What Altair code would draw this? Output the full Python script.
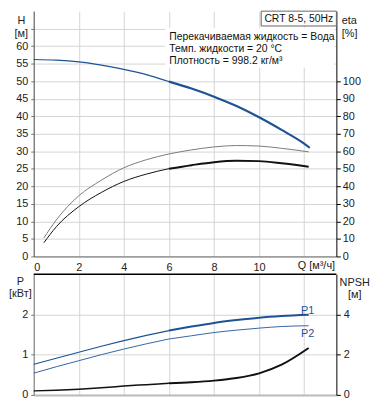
import altair as alt
import pandas as pd

# ---------------- data ----------------
q_h = [0, 1, 2, 3, 4, 5, 6, 7, 8, 9, 10, 11, 12, 12.25]
h_vals = [56.2, 56.0, 55.5, 54.6, 53.4, 51.9, 49.9, 47.9, 45.6, 42.9, 39.7, 36.1, 32.2, 31.0]

q_eta = [0.45, 1, 2, 3, 4, 5, 6, 7, 8, 9, 10, 11, 12.2]
eta_pump = [10.5, 20.8, 34.6, 43.5, 50.6, 55.2, 58.5, 60.8, 62.5, 63.3, 63.0, 61.7, 59.7]
eta_total = [7.8, 16.9, 28.4, 36.5, 42.8, 47.0, 50.1, 52.1, 53.8, 54.6, 54.4, 53.2, 51.2]

q_p = [0, 1, 2, 3, 4, 5, 6, 7, 8, 9, 10, 11, 12.2]
p1_vals = [0.76, 0.91, 1.06, 1.21, 1.35, 1.48, 1.60, 1.70, 1.79, 1.86, 1.92, 1.96, 1.99]
p2_vals = [0.54, 0.70, 0.85, 1.00, 1.14, 1.27, 1.39, 1.47, 1.55, 1.61, 1.66, 1.70, 1.72]
npsh_vals = [0.20, 0.23, 0.28, 0.35, 0.44, 0.51, 0.58, 0.63, 0.71, 0.84, 1.07, 1.50, 2.33]

q_ticks = [0, 2, 4, 6, 8, 10, 12]
h_ticks = [0, 5, 10, 15, 20, 25, 30, 35, 40, 45, 50, 55, 60, 65]
eta_ticks = [0, 10, 20, 30, 40, 50, 60, 70, 80, 90, 100]
p_ticks = [0, 1, 2]
npsh_ticks = [0, 2, 4]

info_lines = ["Перекачиваемая жидкость = Вода",
              "Темп. жидкости = 20 °C",
              "Плотность = 998.2 кг/м³"]
model_label = "CRT 8-5, 50Hz"
q_label = "Q [м³/ч]"

# ---------------- build tables ----------------
def long(q, v, name):
    return pd.DataFrame({"Q": q, "v": v, "s": name})

top_df = pd.concat([long(q_h, h_vals, "H"),
                    long(q_eta, eta_pump, "eta_p"),
                    long(q_eta, eta_total, "eta_t")], ignore_index=True)
bot_df = pd.concat([long(q_p, p1_vals, "P1"),
                    long(q_p, p2_vals, "P2"),
                    long(q_p, npsh_vals, "NPSH")], ignore_index=True)

W, HT, HB = 306, 248, 122
FONT = "Liberation Sans"
GRID = "#d4d4d4"
SPLIT = 6

x_top_axis = alt.Axis(values=q_ticks, grid=True, gridColor=GRID, domainColor="#666",
                      tickSize=0, labelPadding=5, title=None,
                      labelExpr="datum.value == 12 ? '' : datum.label")
x_bot_axis = alt.Axis(values=q_ticks, grid=True, gridColor=GRID, domainColor="#bbb",
                      domainWidth=2, ticks=False, labels=False, title=None)
x_scale = alt.Scale(domain=[0, 13.43], nice=False, zero=False)

h_axis = alt.Axis(values=h_ticks, grid=True, gridColor=GRID, domainColor="#555",
                  tickColor="#777", tickSize=3, labelPadding=3,
                  labelExpr="datum.value > 60 ? '' : datum.label",
                  title=["H", "[м]"], titleAngle=0, titleX=-13, titleY=4,
                  titleAlign="center", titleBaseline="top", titleLineHeight=13)
eta_axis = alt.Axis(orient="right", values=eta_ticks, grid=False, domainColor="black",
                    tickColor="black", tickSize=4, labelPadding=2,
                    title=["eta", "[%]"], titleAngle=0, titleX=5, titleY=4,
                    titleAlign="left", titleBaseline="top", titleLineHeight=13)
p_axis = alt.Axis(values=p_ticks, grid=True, gridColor=GRID, domainColor="#777",
                  tickColor="#777", tickSize=3, labelPadding=3,
                  title=["P", "[кВт]"], titleAngle=0, titleX=-14, titleY=1,
                  titleAlign="center", titleBaseline="top", titleLineHeight=13)
npsh_axis = alt.Axis(orient="right", values=npsh_ticks, grid=False, domainColor="black",
                     tickColor="black", tickSize=4, labelPadding=3,
                     title=["NPSH", "[м]"], titleAngle=0, titleX=18, titleY=2,
                     titleAlign="center", titleBaseline="top", titleLineHeight=13)


def curve(base, name, color, yaxis, yscale, xaxis, thin, thick):
    layers = []
    for cond, w in ((alt.datum.Q <= SPLIT, thin), (alt.datum.Q >= SPLIT, thick)):
        layers.append(
            base.transform_filter((alt.datum.s == name) & cond)
            .mark_line(color=color, strokeWidth=w, interpolate="monotone")
            .encode(x=alt.X("Q:Q", scale=x_scale, axis=xaxis),
                    y=alt.Y("v:Q", scale=yscale, axis=yaxis))
        )
    return layers


tb = alt.Chart(top_df)
h_scale = alt.Scale(domain=[0, 70], nice=False)
eta_scale = alt.Scale(domain=[0, 140], nice=False)

h_group = alt.layer(*curve(tb, "H", "#1d5394", h_axis, h_scale, x_top_axis, 1.2, 2.2))
eta_group = alt.layer(
    *curve(tb, "eta_p", "#7a7a7a", eta_axis, eta_scale, x_top_axis, 1.0, 1.0),
    *curve(tb, "eta_t", "#111111", eta_axis, eta_scale, x_top_axis, 1.0, 2.0),
)

info_bg = alt.Chart(pd.DataFrame({"a": [0]})).mark_rect(fill="white").encode(
    x=alt.value(133), x2=alt.value(304), y=alt.value(17), y2=alt.value(57))
info_txt = alt.layer(*[
    alt.Chart(pd.DataFrame({"t": [t]})).mark_text(
        align="left", baseline="middle", font=FONT, fontSize=10.5, color="#111"
    ).encode(text="t:N", x=alt.value(137), y=alt.value(26 + 12 * i))
    for i, t in enumerate(info_lines)
])
model_box = alt.Chart(pd.DataFrame({"a": [0]})).mark_rect(
    fill="white", stroke="#666", strokeWidth=1).encode(
    x=alt.value(230), x2=alt.value(W), y=alt.value(0), y2=alt.value(15))
model_txt = alt.Chart(pd.DataFrame({"t": [model_label]})).mark_text(
    align="center", baseline="middle", font=FONT, fontSize=10.5, color="#111"
).encode(text="t:N", x=alt.value(268), y=alt.value(8))
q_txt = alt.Chart(pd.DataFrame({"t": [q_label]})).mark_text(
    align="left", baseline="middle", font=FONT, fontSize=11, color="#222"
).encode(text="t:N", x=alt.value(267), y=alt.value(HT + 10))

top = alt.layer(h_group, eta_group, info_bg, info_txt, model_box, model_txt, q_txt
                ).resolve_scale(y="independent").properties(width=W, height=HT)

bb = alt.Chart(bot_df)
p_scale = alt.Scale(domain=[0, 3], nice=False)
n_scale = alt.Scale(domain=[0, 6], nice=False)
p_group = alt.layer(
    *curve(bb, "P1", "#1d5394", p_axis, p_scale, x_bot_axis, 1.2, 2.0),
    *curve(bb, "P2", "#3566a3", p_axis, p_scale, x_bot_axis, 1.0, 1.0),
)
n_group = alt.layer(*curve(bb, "NPSH", "#111111", npsh_axis, n_scale, x_bot_axis, 1.5, 2.0))

top_border = alt.Chart(pd.DataFrame({"a": [0]})).mark_rule(color="black", strokeWidth=1.5).encode(
    x=alt.value(0), x2=alt.value(W), y=alt.value(0))
plabels = alt.layer(*[
    alt.Chart(pd.DataFrame({"t": [t]})).mark_text(
        align="center", baseline="middle", font=FONT, fontSize=11, color="#1d5394"
    ).encode(text="t:N", x=alt.value(277), y=alt.value(yy))
    for t, yy in (("P1", 37), ("P2", 60))
])

bottom = alt.layer(p_group, n_group, top_border, plabels
                   ).resolve_scale(y="independent").properties(width=W, height=HB)

chart = alt.vconcat(top, bottom, spacing=18, bounds="flush").properties(
    padding={"left": 0, "top": 0, "right": 0, "bottom": 0}
).configure_view(stroke=None).configure_axis(
    labelFont=FONT, labelFontSize=11, labelColor="#222",
    titleFont=FONT, titleFontSize=11, titleFontWeight="normal", titleColor="#222")

chart.save("out.html", embed_options={"renderer": "svg", "actions": False})
